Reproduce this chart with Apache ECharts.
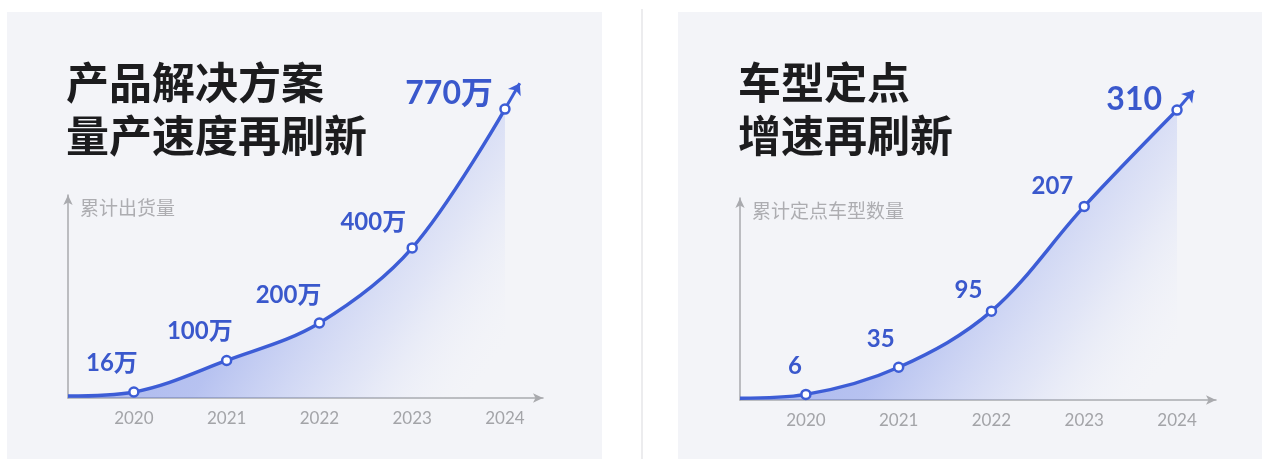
<!DOCTYPE html>
<html>
<head>
<meta charset="utf-8">
<script src="https://cdn.jsdelivr.net/npm/echarts@6/dist/echarts.min.js"></script>
<style>
  html, body { margin: 0; padding: 0; background: #ffffff; }
  #chart { width: 1266px; height: 459px; }
</style>
</head>
<body>
<div id="chart"></div>
<script>
// ---- data ----
const years = [2020, 2021, 2022, 2023, 2024];
const shipments = [16, 100, 200, 400, 770];     // 累计出货量，单位：万
const shipmentUnit = '万';
const shipmentStart = 5;                         // curve starts just above the axis origin
const designWins = [6, 35, 95, 207, 310];       // 累计定点车型数量
const designWinUnit = '';
const designWinStart = 2;
const titles = ['产品解决方案\n量产速度再刷新', '车型定点\n增速再刷新'];
const axisNames = ['累计出货量', '累计定点车型数量'];

// ---- styling ----
const BLUE = '#3d5dd6';
const LABEL_BLUE = '#3a58cc';
const AXIS_GREY = '#a9aaae';
const NUM_FONT = 'Lato, "Noto Sans CJK SC", sans-serif';
const CJK_FONT = '"Noto Sans CJK SC", sans-serif';
const X_MIN = 2019.29;

// per-point label placement (right edge / bottom relative to the marker)
const leftLabelOffsets = [[4, -6], [6, -6], [2, -5], [-6, -3], [-12, 11]];
const rightLabelOffsets = [[-4, -5], [-4, -5], [-9, 2], [-11, 3], [-15, 16]];

function buildSeries(idx, values, unit, start, offsets) {
  const data = [{ value: [X_MIN, start], symbol: 'none', label: { show: false } }];
  values.forEach((v, i) => {
    const last = i === values.length - 1;
    data.push({
      value: [years[i], v],
      label: {
        show: true,
        position: 'top',
        align: 'right',
        offset: offsets[i],
        formatter: String(v) + unit,
        fontSize: last ? 32 : 24,
        fontWeight: 'bold',
        color: LABEL_BLUE,
        fontFamily: NUM_FONT
      }
    });
  });
  return {
    type: 'line',
    xAxisIndex: idx,
    yAxisIndex: idx,
    data: data,
    smooth: 0.35,
    clip: false,
    z: 3,
    symbol: 'circle',
    symbolSize: 9,
    itemStyle: { color: '#ffffff', borderColor: BLUE, borderWidth: 2.5 },
    lineStyle: { color: BLUE, width: 3.5 },
    areaStyle: {
      color: new echarts.graphic.LinearGradient(0, 0, 1, 1, [
        { offset: 0, color: 'rgba(60, 90, 222, 0.72)' },
        { offset: 0.5, color: 'rgba(72, 102, 226, 0.50)' },
        { offset: 0.75, color: 'rgba(105, 130, 234, 0.18)' },
        { offset: 0.95, color: 'rgba(240, 242, 250, 0)' }
      ])
    },
    emphasis: { disabled: true }
  };
}

// short arrow continuing the curve past its last point
function buildArrow(idx, values, step) {
  const lx = years[years.length - 1];
  const ly = values[values.length - 1];
  return {
    type: 'lines',
    coordinateSystem: 'cartesian2d',
    xAxisIndex: idx,
    yAxisIndex: idx,
    clip: false,
    silent: true,
    z: 2,
    symbol: ['none', 'arrow'],
    symbolSize: [9, 11],
    lineStyle: { color: BLUE, width: 3, opacity: 1 },
    data: [{ coords: [[lx, ly], [lx + step[0], ly + step[1]]] }]
  };
}

function xAxisFor(idx, max) {
  return {
    gridIndex: idx,
    type: 'value',
    min: X_MIN,
    max: max,
    splitLine: { show: false },
    axisTick: { show: false },
    axisLine: {
      show: true,
      lineStyle: { color: AXIS_GREY, width: 1.5 },
      symbol: ['none', 'arrow'],
      symbolSize: [7, 10]
    },
    axisLabel: {
      customValues: years,
      formatter: v => String(v),
      color: '#a3a4a8',
      fontSize: 17,
      margin: 12,
      fontFamily: NUM_FONT
    }
  };
}

function yAxisFor(idx, max) {
  return {
    gridIndex: idx,
    type: 'value',
    min: 0,
    max: max,
    name: axisNames[idx],
    nameLocation: 'end',
    nameGap: -13,
    nameTextStyle: {
      align: 'left',
      verticalAlign: 'middle',
      padding: [0, 0, 0, 12],
      fontSize: 19,
      color: '#adadb1',
      fontFamily: CJK_FONT
    },
    splitLine: { show: false },
    axisTick: { show: false },
    axisLabel: { show: false },
    axisLine: {
      show: true,
      lineStyle: { color: AXIS_GREY, width: 1.5 },
      symbol: ['none', 'arrow'],
      symbolSize: [7, 10]
    }
  };
}

const chart = echarts.init(document.getElementById('chart'), null, { renderer: 'canvas' });

chart.setOption({
  animation: false,
  backgroundColor: '#ffffff',
  graphic: [
    { type: 'rect', z: -10, shape: { x: 7, y: 12, width: 595, height: 447 }, style: { fill: '#f3f4f8' } },
    { type: 'rect', z: -10, shape: { x: 678, y: 12, width: 584, height: 447 }, style: { fill: '#f3f4f8' } },
    { type: 'rect', z: -10, shape: { x: 641, y: 9, width: 2, height: 450 }, style: { fill: '#ececee' } }
  ],
  title: [
    {
      text: titles[0], left: 66, top: 56, padding: 0,
      textStyle: { fontSize: 43, lineHeight: 53, fontWeight: 'bold', color: '#1c1c1e', fontFamily: CJK_FONT }
    },
    {
      text: titles[1], left: 738, top: 56, padding: 0,
      textStyle: { fontSize: 43, lineHeight: 53, fontWeight: 'bold', color: '#1c1c1e', fontFamily: CJK_FONT }
    }
  ],
  grid: [
    { left: 68, top: 195, width: 475, height: 203 },
    { left: 740, top: 198, width: 476, height: 202 }
  ],
  xAxis: [xAxisFor(0, 2024.41), xAxisFor(1, 2024.42)],
  yAxis: [yAxisFor(0, 541), yAxisFor(1, 216)],
  series: [
    buildSeries(0, shipments, shipmentUnit, shipmentStart, leftLabelOffsets),
    buildArrow(0, shipments, [0.16, 69]),
    buildSeries(1, designWins, designWinUnit, designWinStart, rightLabelOffsets),
    buildArrow(1, designWins, [0.18, 21])
  ]
});
</script>
</body>
</html>
